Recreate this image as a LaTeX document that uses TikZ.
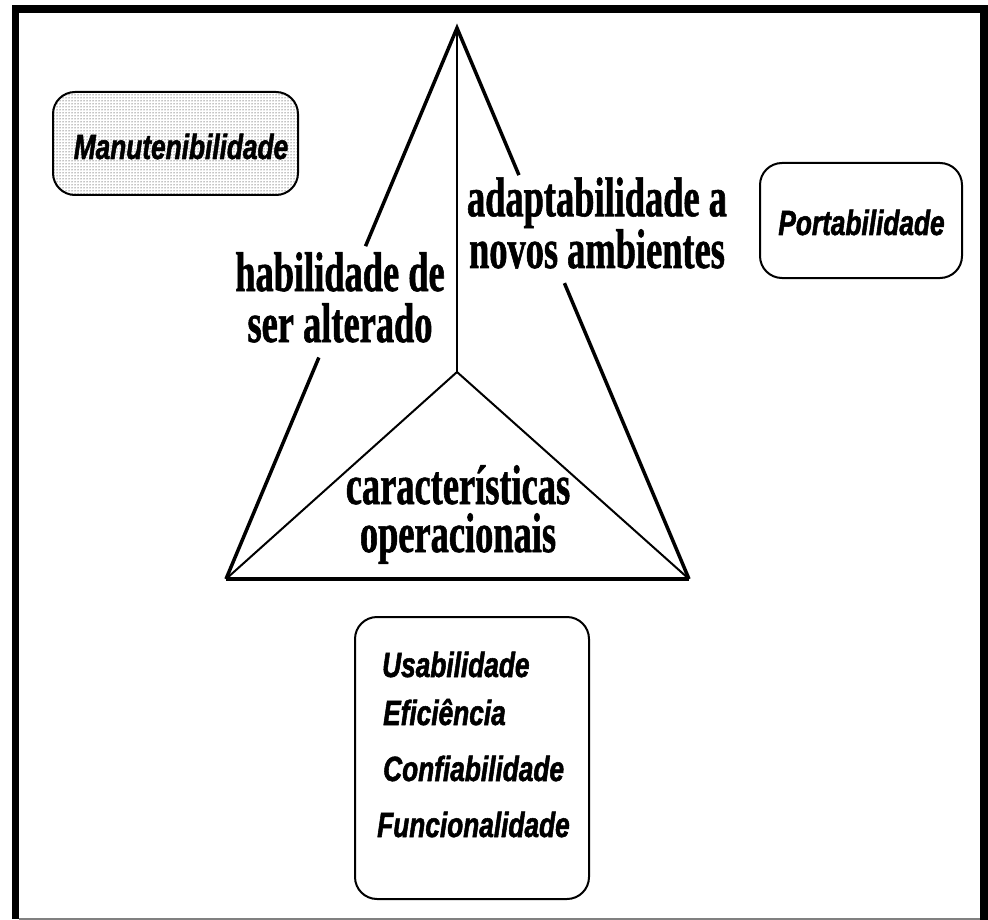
\documentclass[tikz,border=0pt]{standalone}
\usepackage{fontspec}
\newfontfamily\serifcond{Liberation Serif}[FakeStretch=0.65,FakeBold=1]
\newfontfamily\sanscond{Liberation Sans}[FakeStretch=0.75,FakeBold=1.5]
\usetikzlibrary{calc,patterns}
\begin{document}
\begin{tikzpicture}[x=1pt,y=-1pt,
  bigtxt/.style={font=\serifcond\bfseries\fontsize{56}{#1}\selectfont, inner sep=0pt, anchor=base, align=center},
  boxtxt/.style={font=\sanscond\bfseries\itshape\fontsize{35}{35}\selectfont, inner sep=0pt},
  qualbox/.style={draw, line width=2pt, rounded corners=22pt},
  outerline/.style={line width=3.5pt, line join=miter},
  innerline/.style={line width=2pt}]
\useasboundingbox (0,0) rectangle (988,920);
% frame
\fill (12,5) rectangle (988,13);
\fill (12,5) rectangle (19,919);
\fill (980,5) rectangle (988,920);
\draw[gray, line width=1.5pt] (19,919) -- (980,919);
% triangle
\coordinate (apex) at (457,28);
\coordinate (bl) at (226,579);
\coordinate (br) at (689,579);
\coordinate (inapex) at (457,372);
\draw[outerline] ($(apex)!0.396!(bl)$) -- (apex) -- ($(apex)!0.267!(br)$);
\draw[outerline] ($(apex)!0.598!(bl)$) -- (bl);
\draw[outerline] ($(apex)!0.463!(br)$) -- (br);
\draw[line width=4.5pt] (bl) -- (br);
\draw[innerline] (apex) -- (inapex);
\draw[innerline] (bl) -- (inapex) -- (br);
% labels (base = baseline of the last line)
\node[bigtxt=51] (hab) at (340,342) {habilidade de\\ser alterado};
\node[bigtxt=43] (ada) at (597,268) {adaptabilidade a\\novos ambientes};
\node[bigtxt=48] (car) at (458,552) {características\\operacionais};
% boxes
\node[qualbox, pattern=dots, pattern color=black, minimum width=245, minimum height=103] (manutbox) at (175.5,143.5) {};
\node[boxtxt, anchor=base] (manut) at (181,159) {Manutenibilidade};
\node[qualbox, minimum width=202, minimum height=115] (portbox) at (861,220.5) {};
\node[boxtxt, anchor=base] (port) at (861.5,235) {Portabilidade};
\node[qualbox, minimum width=234, minimum height=282] (opbox) at (472,758) {};
\node[boxtxt, anchor=base west] (usa) at (382,677) {Usabilidade};
\node[boxtxt, anchor=base west] (efi) at (383,725) {Eficiência};
\node[boxtxt, anchor=base west] (conf) at (383,781) {Confiabilidade};
\node[boxtxt, anchor=base west] (func) at (377,837) {Funcionalidade};
\end{tikzpicture}
\end{document}
